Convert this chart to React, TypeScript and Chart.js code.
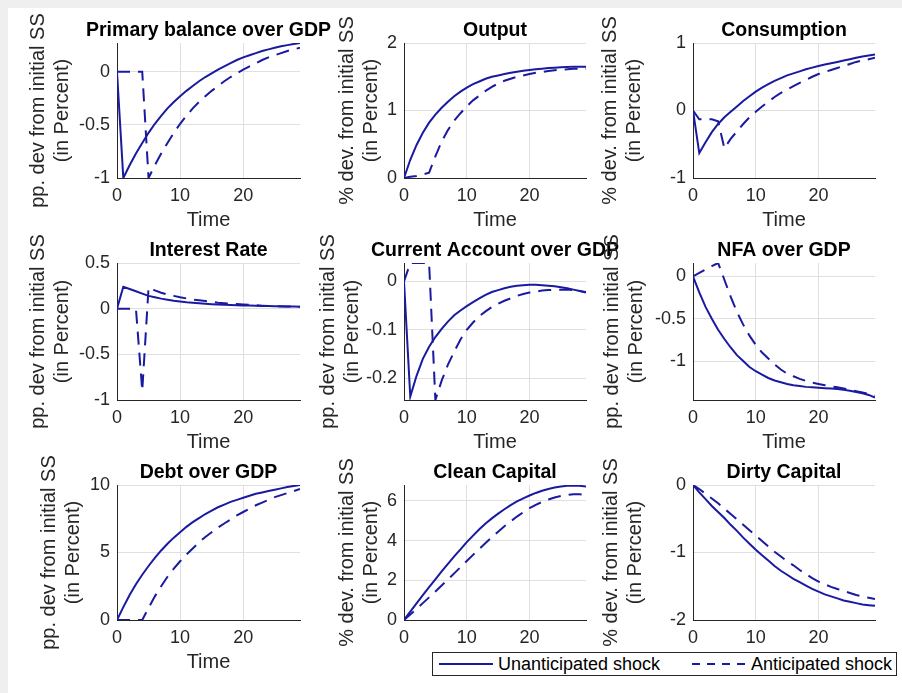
import React, { useEffect, useRef } from 'react';
import { Chart, registerables } from 'chart.js';

Chart.register(...registerables);

// ---------- data ----------
const TIME = [0, 1, 2, 3, 4, 5, 6, 7, 8, 9, 10, 11, 12, 13, 14, 15, 16, 17, 18, 19, 20, 21, 22, 23, 24, 25, 26, 27, 28, 29];
const X_TICKS = [0, 10, 20];
const LEGEND_LABELS = ['Unanticipated shock', 'Anticipated shock'];
const X_LABEL = 'Time';
const Y_LABEL_PP = ['pp. dev from initial SS', '(in Percent)'];
const Y_LABEL_PCT = ['% dev. from initial SS', '(in Percent)'];

const PRIMARY_UNANT = [0, -1.0, -0.88, -0.77, -0.67, -0.575, -0.49, -0.415, -0.345, -0.285, -0.23, -0.18, -0.135, -0.09, -0.05, -0.015, 0.02, 0.05, 0.08, 0.11, 0.135, 0.155, 0.175, 0.195, 0.21, 0.225, 0.24, 0.25, 0.26, 0.27];
const PRIMARY_ANTIC = [0, 0, 0, 0, 0, -1.0, -0.88, -0.77, -0.67, -0.575, -0.49, -0.415, -0.345, -0.285, -0.23, -0.18, -0.135, -0.09, -0.05, -0.015, 0.02, 0.05, 0.08, 0.11, 0.135, 0.155, 0.175, 0.195, 0.21, 0.225];
const PRIMARY_TICKS = [-1, -0.5, 0];

const OUTPUT_UNANT = [0, 0.27, 0.49, 0.67, 0.82, 0.94, 1.04, 1.13, 1.21, 1.28, 1.34, 1.39, 1.43, 1.47, 1.5, 1.52, 1.54, 1.56, 1.575, 1.59, 1.6, 1.61, 1.62, 1.63, 1.635, 1.64, 1.645, 1.65, 1.65, 1.65];
const OUTPUT_ANTIC = [0, 0.02, 0.03, 0.05, 0.08, 0.32, 0.54, 0.71, 0.85, 0.96, 1.06, 1.15, 1.22, 1.29, 1.35, 1.4, 1.44, 1.47, 1.5, 1.52, 1.54, 1.56, 1.57, 1.585, 1.595, 1.605, 1.61, 1.62, 1.62, 1.62];
const OUTPUT_TICKS = [0, 1, 2];

const CONS_UNANT = [0, -0.63, -0.47, -0.32, -0.2, -0.1, -0.02, 0.06, 0.14, 0.21, 0.28, 0.34, 0.39, 0.44, 0.48, 0.52, 0.55, 0.58, 0.61, 0.635, 0.66, 0.68, 0.7, 0.72, 0.74, 0.76, 0.78, 0.8, 0.815, 0.83];
const CONS_ANTIC = [0, -0.13, -0.13, -0.13, -0.16, -0.56, -0.42, -0.31, -0.2, -0.1, -0.02, 0.06, 0.13, 0.2, 0.26, 0.31, 0.36, 0.41, 0.45, 0.5, 0.54, 0.57, 0.6, 0.63, 0.66, 0.69, 0.72, 0.74, 0.76, 0.78];
const CONS_TICKS = [-1, 0, 1];

const RATE_UNANT = [0, 0.24, 0.215, 0.19, 0.165, 0.14, 0.125, 0.11, 0.098, 0.087, 0.078, 0.07, 0.064, 0.058, 0.053, 0.049, 0.046, 0.043, 0.04, 0.038, 0.036, 0.034, 0.032, 0.03, 0.029, 0.027, 0.026, 0.025, 0.023, 0.022];
const RATE_ANTIC = [0, 0, 0, 0, -0.9, 0.23, 0.2, 0.175, 0.155, 0.14, 0.125, 0.112, 0.1, 0.091, 0.083, 0.074, 0.066, 0.06, 0.054, 0.05, 0.046, 0.041, 0.037, 0.033, 0.03, 0.027, 0.025, 0.024, 0.023, 0.022];
const RATE_TICKS = [-1, -0.5, 0, 0.5];

const CA_UNANT = [0, -0.238, -0.195, -0.16, -0.135, -0.115, -0.098, -0.083, -0.07, -0.06, -0.051, -0.043, -0.035, -0.028, -0.022, -0.018, -0.014, -0.011, -0.009, -0.008, -0.007, -0.007, -0.008, -0.009, -0.01, -0.012, -0.014, -0.017, -0.02, -0.023];
const CA_ANTIC = [0, 0.038, 0.038, 0.038, 0.038, -0.245, -0.205, -0.172, -0.145, -0.12, -0.1, -0.085, -0.072, -0.062, -0.053, -0.046, -0.04, -0.035, -0.03, -0.026, -0.023, -0.021, -0.019, -0.018, -0.017, -0.017, -0.017, -0.018, -0.02, -0.022];
const CA_TICKS = [-0.2, -0.1, 0];

const NFA_UNANT = [0, -0.19, -0.36, -0.5, -0.63, -0.74, -0.84, -0.93, -1.0, -1.07, -1.12, -1.16, -1.2, -1.23, -1.25, -1.27, -1.285, -1.295, -1.305, -1.31, -1.315, -1.32, -1.325, -1.33, -1.34, -1.35, -1.365, -1.38, -1.4, -1.43];
const NFA_ANTIC = [0, 0.04, 0.08, 0.12, 0.158, -0.04, -0.24, -0.42, -0.57, -0.7, -0.81, -0.9, -0.97, -1.04, -1.1, -1.15, -1.18, -1.21, -1.235, -1.255, -1.27, -1.285, -1.3, -1.31, -1.325, -1.34, -1.355, -1.37, -1.39, -1.41];
const NFA_TICKS = [-1, -0.5, 0];

const DEBT_UNANT = [0, 0.95, 1.85, 2.65, 3.35, 4.0, 4.6, 5.15, 5.65, 6.1, 6.5, 6.9, 7.25, 7.55, 7.85, 8.1, 8.35, 8.55, 8.75, 8.9, 9.05, 9.2, 9.35, 9.45, 9.55, 9.65, 9.75, 9.85, 9.93, 10.0];
const DEBT_ANTIC = [0, 0, 0, 0, 0, 0.9, 1.75, 2.5, 3.2, 3.8, 4.35, 4.85, 5.3, 5.75, 6.15, 6.5, 6.85, 7.15, 7.45, 7.75, 8.0, 8.25, 8.5, 8.7, 8.9, 9.1, 9.25, 9.4, 9.55, 9.7];
const DEBT_TICKS = [0, 5, 10];

const CLEAN_UNANT = [0, 0.42, 0.84, 1.25, 1.65, 2.05, 2.45, 2.83, 3.2, 3.56, 3.92, 4.25, 4.57, 4.86, 5.12, 5.36, 5.58, 5.79, 5.97, 6.13, 6.27, 6.4, 6.51, 6.6, 6.67, 6.72, 6.76, 6.77, 6.76, 6.72];
const CLEAN_ANTIC = [0, 0.28, 0.56, 0.85, 1.14, 1.44, 1.74, 2.04, 2.35, 2.66, 2.97, 3.28, 3.58, 3.88, 4.17, 4.45, 4.72, 4.97, 5.21, 5.43, 5.63, 5.8, 5.95, 6.07, 6.17, 6.25, 6.3, 6.33, 6.33, 6.3];
const CLEAN_TICKS = [0, 2, 4, 6];

const DIRTY_UNANT = [0, -0.11, -0.21, -0.31, -0.4, -0.49, -0.59, -0.68, -0.78, -0.87, -0.96, -1.04, -1.12, -1.2, -1.27, -1.33, -1.39, -1.44, -1.49, -1.54, -1.58, -1.62, -1.65, -1.68, -1.71, -1.73, -1.75, -1.77, -1.78, -1.79];
const DIRTY_ANTIC = [0, -0.06, -0.13, -0.2, -0.27, -0.35, -0.43, -0.51, -0.59, -0.67, -0.75, -0.83, -0.91, -0.99, -1.06, -1.13, -1.19, -1.26, -1.32, -1.38, -1.43, -1.47, -1.51, -1.54, -1.57, -1.6, -1.63, -1.65, -1.67, -1.69];
const DIRTY_TICKS = [-2, -1, 0];

// ---------- panel definitions ----------
type Panel = {
  title: string;
  yLabel: string[];
  unant: number[];
  antic: number[];
  ticks: number[];
  min: number;
  max: number;
  col: number;
  row: number;
  yTitlePad: number;
  showX: boolean;
};

const PANELS: Panel[] = [
  { title: 'Primary balance over GDP', yLabel: Y_LABEL_PP, unant: PRIMARY_UNANT, antic: PRIMARY_ANTIC, ticks: PRIMARY_TICKS, min: -1, max: 0.27, col: 0, row: 0, yTitlePad: 26, showX: true },
  { title: 'Output', yLabel: Y_LABEL_PCT, unant: OUTPUT_UNANT, antic: OUTPUT_ANTIC, ticks: OUTPUT_TICKS, min: 0, max: 2, col: 1, row: 0, yTitlePad: 48.5, showX: true },
  { title: 'Consumption', yLabel: Y_LABEL_PCT, unant: CONS_UNANT, antic: CONS_ANTIC, ticks: CONS_TICKS, min: -1, max: 1, col: 2, row: 0, yTitlePad: 22, showX: true },
  { title: 'Interest Rate', yLabel: Y_LABEL_PP, unant: RATE_UNANT, antic: RATE_ANTIC, ticks: RATE_TICKS, min: -1, max: 0.5, col: 0, row: 1, yTitlePad: 26, showX: true },
  { title: 'Current Account over GDP', yLabel: Y_LABEL_PP, unant: CA_UNANT, antic: CA_ANTIC, ticks: CA_TICKS, min: -0.245, max: 0.038, col: 1, row: 1, yTitlePad: 29.5, showX: true },
  { title: 'NFA over GDP', yLabel: Y_LABEL_PP, unant: NFA_UNANT, antic: NFA_ANTIC, ticks: NFA_TICKS, min: -1.46, max: 0.158, col: 2, row: 1, yTitlePad: 24.5, showX: true },
  { title: 'Debt over GDP', yLabel: Y_LABEL_PP, unant: DEBT_UNANT, antic: DEBT_ANTIC, ticks: DEBT_TICKS, min: 0, max: 10, col: 0, row: 2, yTitlePad: 37, showX: true },
  { title: 'Clean Capital', yLabel: Y_LABEL_PCT, unant: CLEAN_UNANT, antic: CLEAN_ANTIC, ticks: CLEAN_TICKS, min: 0, max: 6.8, col: 1, row: 2, yTitlePad: 48, showX: false },
  { title: 'Dirty Capital', yLabel: Y_LABEL_PCT, unant: DIRTY_UNANT, antic: DIRTY_ANTIC, ticks: DIRTY_TICKS, min: -2, max: 0, col: 2, row: 2, yTitlePad: 23, showX: false },
];

// ---------- layout / style ----------
const FONT = "'Liberation Sans', Arial, Helvetica, sans-serif";
const LINE_COLOR = 'rgb(26,26,160)';
const AXIS_COLOR = '#262626';
const GRID_COLOR = '#dfdfdf';
const COLS = [{ left: 117, width: 183 }, { left: 404, width: 182 }, { left: 693, width: 182 }];
const ROWS = [{ top: 43, height: 135 }, { top: 263, height: 137 }, { top: 485, height: 135 }];
const PAD_L = 117;
const PAD_T = 45;
const PAD_R = 45;
const PAD_B = 56;

Chart.defaults.font.family = FONT;

const subTitlePlugin = {
  id: 'subTitle',
  afterDraw(chart: any, _args: any, opts: any) {
    const { ctx, chartArea } = chart;
    ctx.save();
    ctx.font = `bold 19.5px ${FONT}`;
    ctx.fillStyle = '#000000';
    ctx.textAlign = 'center';
    ctx.textBaseline = 'middle';
    ctx.fillText(opts.text, (chartArea.left + chartArea.right) / 2, chartArea.top - 12.5);
    ctx.restore();
  },
};

function SubPlot({ p }: { p: Panel }) {
  const ref = useRef<HTMLCanvasElement | null>(null);
  const col = COLS[p.col];
  const row = ROWS[p.row];
  const w = PAD_L + col.width + PAD_R;
  const h = PAD_T + row.height + PAD_B;

  useEffect(() => {
    if (!ref.current) return;
    const chart = new Chart(ref.current, {
      type: 'line',
      data: {
        datasets: [
          {
            label: LEGEND_LABELS[0],
            data: TIME.map((t, i) => ({ x: t, y: p.unant[i] })),
            borderColor: LINE_COLOR,
            borderWidth: 2,
            pointRadius: 0,
            fill: false,
            tension: 0,
          },
          {
            label: LEGEND_LABELS[1],
            data: TIME.map((t, i) => ({ x: t, y: p.antic[i] })),
            borderColor: LINE_COLOR,
            borderWidth: 2,
            borderDash: [13, 8],
            pointRadius: 0,
            fill: false,
            tension: 0,
          },
        ],
      },
      options: {
        responsive: false,
        animation: false,
        devicePixelRatio: 1,
        layout: { padding: { left: 0, top: PAD_T, right: PAD_R, bottom: 0 } },
        plugins: {
          legend: { display: false },
          tooltip: { enabled: false },
          subTitle: { text: p.title },
        } as any,
        scales: {
          x: {
            type: 'linear',
            min: 0,
            max: TIME[TIME.length - 1],
            afterBuildTicks: (axis: any) => {
              axis.ticks = X_TICKS.map((v) => ({ value: v }));
            },
            afterFit: (s: any) => {
              s.height = PAD_B;
            },
            grid: { color: GRID_COLOR, lineWidth: 1, drawTicks: false },
            border: { display: true, color: AXIS_COLOR, width: 1 },
            ticks: {
              color: AXIS_COLOR,
              font: { size: 18, family: FONT },
              padding: 7,
              maxRotation: 0,
              autoSkip: false,
              callback: (v: any) => String(v),
            },
            title: {
              display: p.showX,
              text: X_LABEL,
              color: AXIS_COLOR,
              font: { size: 20, family: FONT, lineHeight: 1.2 },
              padding: { top: 0, bottom: 2 },
            },
          },
          y: {
            type: 'linear',
            min: p.min,
            max: p.max,
            afterBuildTicks: (axis: any) => {
              axis.ticks = p.ticks.map((v) => ({ value: v }));
            },
            afterFit: (s: any) => {
              s.width = PAD_L;
            },
            grid: { color: GRID_COLOR, lineWidth: 1, drawTicks: false },
            border: { display: true, color: AXIS_COLOR, width: 1 },
            ticks: {
              color: AXIS_COLOR,
              font: { size: 18, family: FONT },
              padding: 7,
              autoSkip: false,
              callback: (v: any) => String(v),
            },
            title: {
              display: true,
              text: p.yLabel,
              color: AXIS_COLOR,
              font: { size: 20, family: FONT, lineHeight: 1.2 },
              padding: { top: p.yTitlePad, bottom: 0 },
            },
          },
        },
      } as any,
      plugins: [subTitlePlugin as any],
    });
    return () => chart.destroy();
  }, []);

  return (
    <canvas
      ref={ref}
      width={w}
      height={h}
      style={{
        position: 'absolute',
        left: col.left - PAD_L,
        top: row.top - PAD_T,
        width: w,
        height: h,
      }}
    />
  );
}

function Legend() {
  return (
    <div
      style={{
        position: 'absolute',
        left: 432,
        top: 652,
        width: 465,
        height: 24,
        boxSizing: 'border-box',
        border: `1px solid ${AXIS_COLOR}`,
        background: '#ffffff',
        fontFamily: FONT,
        fontSize: 18,
        color: '#000000',
        zIndex: 10,
      }}
    >
      <svg width={463} height={22} style={{ position: 'absolute', left: 0, top: 0 }}>
        <line x1={6} x2={60} y1={11} y2={11} stroke={LINE_COLOR} strokeWidth={2} />
        <line x1={259} x2={313} y1={11} y2={11} stroke={LINE_COLOR} strokeWidth={2} strokeDasharray="8 7" />
      </svg>
      <span style={{ position: 'absolute', left: 65, top: 0, lineHeight: '22px', whiteSpace: 'nowrap' }}>
        {LEGEND_LABELS[0]}
      </span>
      <span style={{ position: 'absolute', left: 318, top: 0, lineHeight: '22px', whiteSpace: 'nowrap' }}>
        {LEGEND_LABELS[1]}
      </span>
    </div>
  );
}

export default function App() {
  return (
    <div
      style={{
        position: 'absolute',
        left: 0,
        top: 0,
        width: 902,
        height: 693,
        overflow: 'hidden',
        background: '#efefef',
      }}
    >
      <div
        style={{
          position: 'absolute',
          left: 8,
          top: 8,
          width: 894,
          height: 685,
          background: '#ffffff',
          overflow: 'hidden',
        }}
      >
        <div style={{ position: 'absolute', left: -8, top: -8, width: 902, height: 693 }}>
          {PANELS.map((p) => (
            <SubPlot key={p.title} p={p} />
          ))}
          <Legend />
        </div>
      </div>
    </div>
  );
}
